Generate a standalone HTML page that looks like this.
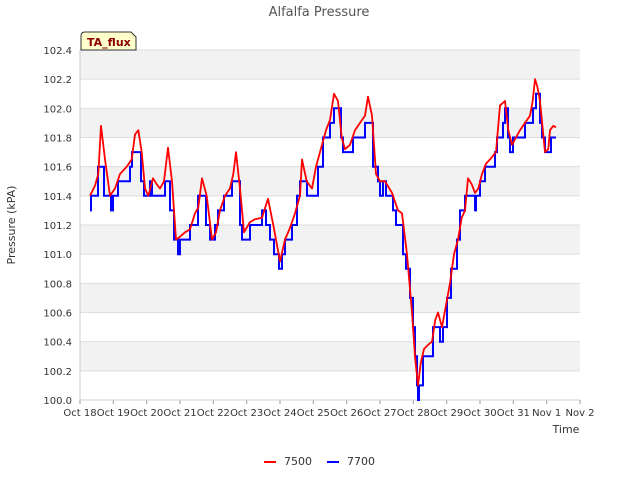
<!DOCTYPE html>
<html><head><meta charset="utf-8"><style>
body{margin:0;background:#fff;font-family:"Liberation Sans","DejaVu Sans",sans-serif}
</style></head><body>
<svg width="640" height="480" xmlns="http://www.w3.org/2000/svg" font-family="DejaVu Sans, Liberation Sans, sans-serif">
<g id="bands"></g>
<g id="grid"></g>
<g id="axes"></g>
<g id="series"></g>
<text x="319" y="16" text-anchor="middle" font-size="13" fill="#555">Alfalfa Pressure</text>
<text x="15" y="225" text-anchor="middle" font-size="11" fill="#333" transform="rotate(-90 15 225)">Pressure (kPA)</text>
<text x="566" y="433" text-anchor="middle" font-size="11" fill="#333">Time</text>
<g>
<path d="M81,50 L81,36 Q81,32 85,32 L131,32 L136,37 L136,50 Z" fill="#ffffcc" stroke="#333" stroke-width="1"/>
<text x="87" y="46" font-size="11" font-weight="bold" fill="#8b0000">TA_flux</text>
</g>
<g>
<g><line x1="264" y1="462" x2="276" y2="462" stroke="#f00" stroke-width="2"/><text x="284" y="465" font-size="11" fill="#333">7500</text></g>
<g><line x1="327" y1="462" x2="339" y2="462" stroke="#00f" stroke-width="2"/><text x="347" y="465" font-size="11" fill="#333">7700</text></g>
</g>
</svg>
<script>
const yTicks=[100.0,100.2,100.4,100.6,100.8,101.0,101.2,101.4,101.6,101.8,102.0,102.2,102.4];
const xTickLabels=["Oct 18","Oct 19","Oct 20","Oct 21","Oct 22","Oct 23","Oct 24","Oct 25","Oct 26","Oct 27","Oct 28","Oct 29","Oct 30","Oct 31","Nov 1","Nov 2"];
const redT=[0.30,0.45,0.55,0.63,0.75,0.90,1.05,1.20,1.40,1.55,1.65,1.75,1.85,1.95,2.05,2.19,2.30,2.40,2.52,2.64,2.76,2.88,3.00,3.15,3.30,3.45,3.55,3.66,3.80,3.96,4.08,4.20,4.35,4.50,4.60,4.68,4.80,4.92,5.10,5.25,5.46,5.64,5.80,6.00,6.15,6.30,6.45,6.60,6.66,6.80,6.96,7.08,7.20,7.38,7.50,7.62,7.74,7.85,7.95,8.10,8.25,8.46,8.55,8.64,8.76,8.88,9.00,9.15,9.36,9.54,9.66,9.81,9.96,10.05,10.14,10.22,10.32,10.45,10.56,10.66,10.74,10.86,10.98,11.10,11.22,11.34,11.45,11.55,11.64,11.75,11.85,11.95,12.06,12.18,12.30,12.48,12.60,12.75,12.85,12.96,13.08,13.20,13.35,13.50,13.58,13.65,13.72,13.80,13.95,14.05,14.10,14.20,14.28];
const redV=[101.40,101.47,101.55,101.88,101.65,101.40,101.45,101.55,101.60,101.65,101.82,101.85,101.70,101.45,101.40,101.52,101.48,101.45,101.50,101.73,101.50,101.10,101.12,101.15,101.17,101.28,101.32,101.52,101.40,101.10,101.15,101.30,101.40,101.45,101.55,101.70,101.45,101.15,101.22,101.24,101.25,101.38,101.20,100.95,101.10,101.18,101.28,101.40,101.65,101.50,101.45,101.60,101.70,101.85,101.92,102.10,102.05,101.80,101.72,101.75,101.85,101.92,101.95,102.08,101.95,101.55,101.50,101.50,101.42,101.30,101.28,101.00,100.60,100.30,100.10,100.25,100.35,100.38,100.40,100.55,100.60,100.50,100.65,100.80,101.00,101.10,101.25,101.30,101.52,101.48,101.42,101.45,101.55,101.62,101.65,101.70,102.02,102.05,101.85,101.75,101.80,101.85,101.90,101.95,102.05,102.20,102.15,102.05,101.70,101.72,101.85,101.88,101.87];
const blueT=[0.30,0.33,0.54,0.60,0.72,0.93,0.99,1.14,1.50,1.56,1.83,1.92,2.10,2.16,2.55,2.70,2.82,2.94,3.00,3.30,3.54,3.78,3.90,4.05,4.14,4.32,4.56,4.80,4.86,5.10,5.46,5.58,5.70,5.82,5.97,6.06,6.15,6.36,6.51,6.60,6.81,7.14,7.29,7.50,7.62,7.83,7.89,8.19,8.55,8.79,8.94,9.00,9.09,9.18,9.39,9.48,9.69,9.78,9.90,9.99,10.05,10.11,10.14,10.17,10.29,10.59,10.80,10.89,11.01,11.13,11.31,11.40,11.55,11.85,11.88,12.00,12.15,12.45,12.51,12.69,12.75,12.84,12.90,12.99,13.26,13.35,13.56,13.59,13.68,13.80,13.86,13.95,14.13,14.28];
const blueV=[101.3,101.4,101.6,101.6,101.4,101.3,101.4,101.5,101.6,101.7,101.5,101.4,101.5,101.4,101.5,101.3,101.1,101.0,101.1,101.2,101.4,101.2,101.1,101.2,101.3,101.4,101.5,101.2,101.1,101.2,101.3,101.2,101.1,101.0,100.9,101.0,101.1,101.2,101.4,101.5,101.4,101.6,101.8,101.9,102.0,101.8,101.7,101.8,101.9,101.6,101.5,101.4,101.5,101.4,101.3,101.2,101.0,100.9,100.7,100.5,100.3,100.1,100.0,100.1,100.3,100.5,100.4,100.5,100.7,100.9,101.1,101.3,101.4,101.3,101.4,101.5,101.6,101.7,101.8,101.9,102.0,101.8,101.7,101.8,101.8,101.9,101.9,102.0,102.1,101.9,101.8,101.7,101.8,101.8];
const NS="http://www.w3.org/2000/svg";
const L=80,R=580,T=50,B=400,yMin=100,yMax=102.4,xMin=0,xMax=15;
const xs=t=>L+(t-xMin)/(xMax-xMin)*(R-L);
const ys=v=>B-(v-yMin)/(yMax-yMin)*(B-T);
function mk(tag,attrs,parent){const e=document.createElementNS(NS,tag);for(const k in attrs)e.setAttribute(k,attrs[k]);parent.appendChild(e);return e;}
const bands=document.getElementById('bands'),grid=document.getElementById('grid'),axes=document.getElementById('axes'),series=document.getElementById('series');
mk('rect',{x:L,y:T,width:R-L,height:B-T,fill:'#fff'},bands);
for(let i=0;i<yTicks.length-1;i++){if(i%2===1){const r=mk('rect',{x:L,y:ys(yTicks[i+1]),width:R-L,height:ys(yTicks[i])-ys(yTicks[i+1]),fill:'#f2f2f2'},bands);}}
yTicks.forEach(v=>{
 const g=mk('line',{x1:L,x2:R,y1:ys(v),y2:ys(v),stroke:'#ddd','stroke-width':1},grid);
 
 
 const t=mk('text',{x:L-8,y:ys(v)+4,'text-anchor':'end','font-size':10,fill:'#333'},axes);
 
 
 t.textContent=v.toFixed(1);
});
xTickLabels.forEach((s,i)=>{
 const x=xs(i);
 mk('line',{x1:x,x2:x,y1:B,y2:B+4,stroke:'#999'},axes);
 const t=mk('text',{x:x,y:B+16,'text-anchor':'middle','font-size':10,fill:'#333'},axes);
 
 
 t.textContent=s;
});
mk('line',{x1:L,x2:L,y1:T,y2:B,stroke:'#ccc'},axes);
mk('line',{x1:L,x2:R,y1:B,y2:B,stroke:'#ccc'},axes);
let bd='';
blueT.forEach((t,i)=>{const x=xs(t).toFixed(1),y=ys(blueV[i]).toFixed(1);if(i===0)bd+='M'+x+','+y;else bd+='H'+x+'V'+y;});
const bl=mk('path',{d:bd,fill:'none',stroke:'#00f','stroke-width':2},series);


const rd=redT.map((t,i)=>(i?'L':'M')+xs(t).toFixed(1)+','+ys(redV[i]).toFixed(1)).join('');
const rl=mk('path',{d:rd,fill:'none',stroke:'#f00','stroke-width':1.8,'stroke-linejoin':'round'},series);


</script>
</body></html>
